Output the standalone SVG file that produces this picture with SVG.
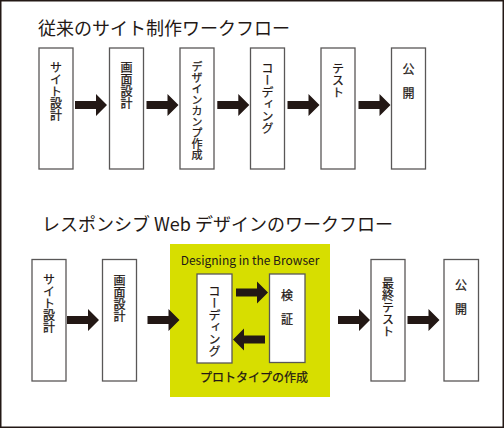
<svg xmlns="http://www.w3.org/2000/svg" xmlns:xlink="http://www.w3.org/1999/xlink" width="504" height="428" viewBox="0 0 504 428">
  <style>
    .frame { fill: #ffffff; stroke: #231815; stroke-width: 1.5; }
    .box { fill: #ffffff; stroke: #595757; stroke-width: 1.3; }
    .hl { fill: #d7de00; }
    .arrow { fill: #231815; }
    .title { font-family: "Noto Sans CJK JP", "Noto Sans", sans-serif; font-size: 18px; fill: #231815; }
    .vt { font-family: "Noto Sans CJK JP", sans-serif; font-size: 12px; fill: #231815; stroke: #231815; stroke-width: 0.25; writing-mode: vertical-rl; }
    .tight { font-size: 11px; }
    .lbl { font-family: "Noto Sans CJK JP", "Noto Sans", sans-serif; font-size: 12px; fill: #231815; }
    .bold { stroke: #231815; stroke-width: 0.25; }
  </style>
  <defs>
    <path id="arr" d="M0,-4 H21 V-11 L32,0 L21,11 V4 H0 Z"/>
  </defs>

  <rect class="frame" x="0.75" y="0.75" width="502.5" height="426.5"/>

  <text id="title1" class="title" x="38" y="35">従来のサイト制作ワークフロー</text>
  <text id="title2" class="title" x="42" y="230.5">レスポンシブ Web デザインのワークフロー</text>

  <!-- Top row -->
  <g id="t1"><rect class="box" x="39" y="48" width="34" height="121"/><text class="vt" x="56" y="61">サイト設計</text></g>
  <g id="t2"><rect class="box" x="109.5" y="48" width="34" height="121"/><text class="vt" x="126.5" y="61">画面設計</text></g>
  <g id="t3"><rect class="box" x="180" y="48" width="34" height="121"/><text class="vt tight" x="197" y="61">デザインカンプ作成</text></g>
  <g id="t4"><rect class="box" x="250.5" y="48" width="34" height="121"/><text class="vt" x="267.5" y="62">コーディング</text></g>
  <g id="t5"><rect class="box" x="321" y="48" width="34" height="121"/><text class="vt" x="338" y="62">テスト</text></g>
  <g id="t6"><rect class="box" x="391.5" y="48" width="34" height="121"/><text class="vt" x="408.5" y="63">公　開</text></g>

  <!-- Bottom row -->
  <g id="proto">
    <rect class="hl" x="170" y="244" width="160" height="153"/>
    <text class="lbl" x="250" y="265" text-anchor="middle">Designing in the Browser</text>
    <text class="lbl bold" x="200" y="382">プロトタイプの作成</text>
  </g>
  <g id="b1"><rect class="box" x="32" y="259.5" width="34" height="121.5"/><text class="vt" x="49" y="273">サイト設計</text></g>
  <g id="b2"><rect class="box" x="102.5" y="259.5" width="34" height="121.5"/><text class="vt" x="119.5" y="274">画面設計</text></g>
  <g id="b3"><rect class="box" x="197" y="274" width="35" height="89"/><text class="vt" x="214.5" y="285">コーディング</text></g>
  <g id="b4"><rect class="box" x="269.5" y="274" width="35.5" height="88.5"/><text class="vt" x="287" y="289">検　証</text></g>
  <g id="b5"><rect class="box" x="371" y="259.5" width="34" height="121.5"/><text class="vt" x="388" y="277">最終テスト</text></g>
  <g id="b6"><rect class="box" x="444" y="259.5" width="34.5" height="121.5"/><text class="vt" x="461" y="279">公　開</text></g>

  <g id="connectors" class="arrow">
    <use xlink:href="#arr" x="75" y="105"/>
    <use xlink:href="#arr" x="146.5" y="105"/>
    <use xlink:href="#arr" x="217.3" y="105"/>
    <use xlink:href="#arr" x="287.5" y="105"/>
    <use xlink:href="#arr" x="358.5" y="105"/>

    <use xlink:href="#arr" x="67" y="320"/>
    <use xlink:href="#arr" x="147.5" y="320"/>
    <use xlink:href="#arr" x="338" y="320"/>
    <use xlink:href="#arr" x="407.5" y="320"/>

    <use xlink:href="#arr" x="236" y="292.5"/>
    <use xlink:href="#arr" transform="translate(265,339.5) scale(-1,1)"/>
  </g>
</svg>
